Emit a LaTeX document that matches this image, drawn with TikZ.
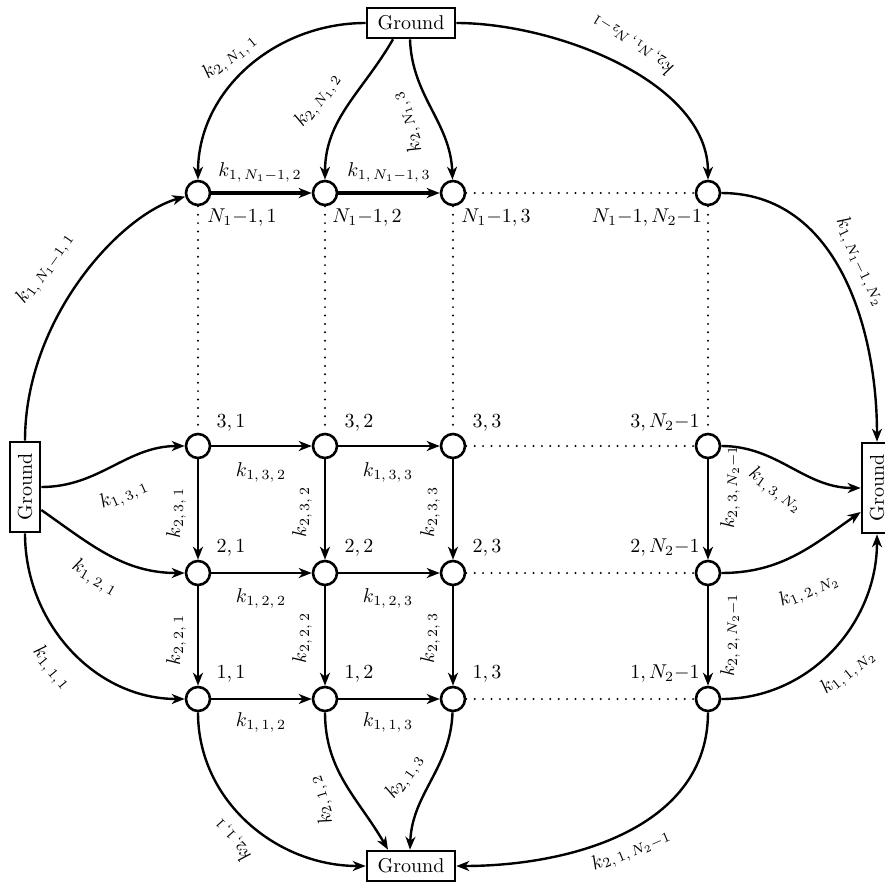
\documentclass[tikz,border=0pt]{standalone}
\usepackage{graphicx}
\usetikzlibrary{arrows.meta}
\newcommand{\sepc}{,\mkern3mu}
\begin{document}
\begin{tikzpicture}[x=0.5pt,y=-0.5pt,
  st/.style={circle,draw,line width=1.3pt,minimum size=12pt,inner sep=0pt,fill=white},
  gnd/.style={draw,line width=1.3pt,minimum width=44pt,minimum height=15pt,inner sep=1pt,fill=white},
  gndv/.style={draw,line width=1.3pt,minimum width=15pt,minimum height=45pt,inner sep=1pt,fill=white},
  arr/.style={line width=1.2pt,-{Stealth[length=6.5pt,width=5pt,inset=2pt]}},
  arrb/.style={arr,line width=1.7pt},
  dots/.style={line width=1.1pt,dash pattern=on 0pt off 4.2pt,line cap=round},
  lab/.style={inner sep=0pt},
  nl/.style={inner sep=0pt}]
\fill[white] (0,0) rectangle (885,884);
\useasboundingbox (0,0) rectangle (885,884);
% ground boxes
\node[gnd] (GT) at (411,23) {Ground};
\node[gnd] (GB) at (411,866) {Ground};
\node[gndv] (GL) at (25,487) {\rotatebox{90}{Ground}};
\node[gndv] (GR) at (877,488) {\rotatebox{90}{Ground}};
% states
\node[st] (t1) at (198,193) {};
\node[st] (t2) at (325,193) {};
\node[st] (t3) at (453,193) {};
\node[st] (t4) at (708,193) {};
\node[st] (a31) at (198,446) {};
\node[st] (a32) at (325,446) {};
\node[st] (a33) at (453,446) {};
\node[st] (a34) at (708,446) {};
\node[st] (a21) at (198,573) {};
\node[st] (a22) at (325,573) {};
\node[st] (a23) at (453,573) {};
\node[st] (a24) at (708,573) {};
\node[st] (a11) at (198,699) {};
\node[st] (a12) at (325,699) {};
\node[st] (a13) at (453,699) {};
\node[st] (a14) at (708,699) {};
% state labels
\node[nl] at (242,218) {$N_1{-}1,1$};
\node[nl] at (367,218) {$N_1{-}1,2$};
\node[nl] at (496,218) {$N_1{-}1,3$};
\node[nl] at (647,218) {$N_1{-}1,N_2{-}1$};
\node[nl] at (231,423) {$3,1$};
\node[nl] at (359,423) {$3,2$};
\node[nl] at (487,423) {$3,3$};
\node[nl] at (665,423) {$3,N_2{-}1$};
\node[nl] at (231,548) {$2,1$};
\node[nl] at (359,548) {$2,2$};
\node[nl] at (487,548) {$2,3$};
\node[nl] at (665,548) {$2,N_2{-}1$};
\node[nl] at (231,674) {$1,1$};
\node[nl] at (359,674) {$1,2$};
\node[nl] at (487,674) {$1,3$};
\node[nl] at (665,674) {$1,N_2{-}1$};
% dotted
\draw[dots] (t3) -- (t4);
\draw[dots] (a33) -- (a34);
\draw[dots] (a23) -- (a24);
\draw[dots] (a13) -- (a14);
\draw[dots] (t1) -- (a31);
\draw[dots] (t2) -- (a32);
\draw[dots] (t3) -- (a33);
\draw[dots] (t4) -- (a34);
% grid arrows
\draw[arrb] (t1) -- (t2);
\draw[arrb] (t2) -- (t3);
\foreach \r in {3,2,1}{
  \draw[arr] (a\r1) -- (a\r2);
  \draw[arr] (a\r2) -- (a\r3);
}
\foreach \c in {1,2,3,4}{
  \draw[arr] (a3\c) -- (a2\c);
  \draw[arr] (a2\c) -- (a1\c);
}
% grid labels
\node[lab] at (260,172) {$k_{1\sepc N_1-1\sepc 2}$};
\node[lab] at (389,172) {$k_{1\sepc N_1-1\sepc 3}$};
\node[lab] at (261,472) {$k_{1\sepc 3\sepc 2}$};
\node[lab] at (388,472) {$k_{1\sepc 3\sepc 3}$};
\node[lab] at (261,598) {$k_{1\sepc 2\sepc 2}$};
\node[lab] at (388,598) {$k_{1\sepc 2\sepc 3}$};
\node[lab] at (261,722) {$k_{1\sepc 1\sepc 2}$};
\node[lab] at (388,722) {$k_{1\sepc 1\sepc 3}$};
\node[lab,rotate=90] at (176,513) {$k_{2\sepc 3\sepc 1}$};
\node[lab,rotate=90] at (302,512) {$k_{2\sepc 3\sepc 2}$};
\node[lab,rotate=90] at (430,512) {$k_{2\sepc 3\sepc 3}$};
\node[lab,rotate=90] at (730,487) {$k_{2\sepc 3\sepc N_2-1}$};
\node[lab,rotate=90] at (176,640) {$k_{2\sepc 2\sepc 1}$};
\node[lab,rotate=90] at (302,638) {$k_{2\sepc 2\sepc 2}$};
\node[lab,rotate=90] at (430,638) {$k_{2\sepc 2\sepc 3}$};
\node[lab,rotate=90] at (730,635) {$k_{2\sepc 2\sepc N_2-1}$};
% top ground
\draw[arr] (GT.west) to[out=180,in=90] (t1);
\draw[arr] ([xshift=-9pt]GT.south) to[out=-120,in=90] (t2);
\draw[arr] ([xshift=-0.5pt]GT.south) to[out=-88,in=92] (t3);
\draw[arr] (GT.east) to[out=0,in=90,looseness=0.85] (t4);
\node[lab,rotate=39] at (230,57) {$k_{2\sepc N_1\sepc 1}$};
\node[lab,rotate=54] at (318,100) {$k_{2\sepc N_1\sepc 2}$};
\node[lab,rotate=110] at (407,122) {$k_{2\sepc N_1\sepc 3}$};
\node[lab,rotate=148] at (632,45) {$k_{2\sepc N_1\sepc N_2-1}$};
% left ground
\draw[arr] (GL.north) .. controls +(0,-122) and +(-78,22) .. (t1);
\draw[arr] (GL.east) to[out=0,in=180] (a31);
\draw[arr] ([yshift=-11.5pt]GL.east) to[out=-35,in=180] (a21);
\draw[arr] (GL.south) to[out=-90,in=180] (a11);
\node[lab,rotate=55] at (45,268) {$k_{1\sepc N_1-1\sepc 1}$};
\node[lab,rotate=24] at (124,495) {$k_{1\sepc 3\sepc 1}$};
\node[lab,rotate=-30] at (95,578) {$k_{1\sepc 2\sepc 1}$};
\node[lab,rotate=-50] at (52,668) {$k_{1\sepc 1\sepc 1}$};
% right ground
\draw[arr] (t4) to[out=0,in=90] (GR.north);
\draw[arr] (a34) to[out=0,in=180] (GR.west);
\draw[arr] (a24) to[out=0,in=215] ([yshift=-12pt]GR.west);
\draw[arr] (a14) to[out=0,in=-90] (GR.south);
\node[lab,rotate=-64] at (861,262) {$k_{1\sepc N_1-1\sepc N_2}$};
\node[lab,rotate=-35] at (776,490) {$k_{1\sepc 3\sepc N_2}$};
\node[lab,rotate=24] at (809,590) {$k_{1\sepc 2\sepc N_2}$};
\node[lab,rotate=39] at (848,672) {$k_{1\sepc 1\sepc N_2}$};
% bottom ground
\draw[arr] (a11) to[out=-90,in=180] (GB.west);
\draw[arr] (a12) to[out=-90,in=120] ([xshift=-11.5pt]GB.north);
\draw[arr] (a13) to[out=-92,in=88] ([xshift=-0.5pt]GB.north);
\draw[arr] (a14) to[out=-90,in=0] (GB.east);
\node[lab,rotate=132] at (232,840) {$k_{2\sepc 1\sepc 1}$};
\node[lab,rotate=107] at (321,800) {$k_{2\sepc 1\sepc 2}$};
\node[lab,rotate=55] at (405,777) {$k_{2\sepc 1\sepc 3}$};
\node[lab,rotate=23] at (631,850) {$k_{2\sepc 1\sepc N_2-1}$};
\end{tikzpicture}
\end{document}
